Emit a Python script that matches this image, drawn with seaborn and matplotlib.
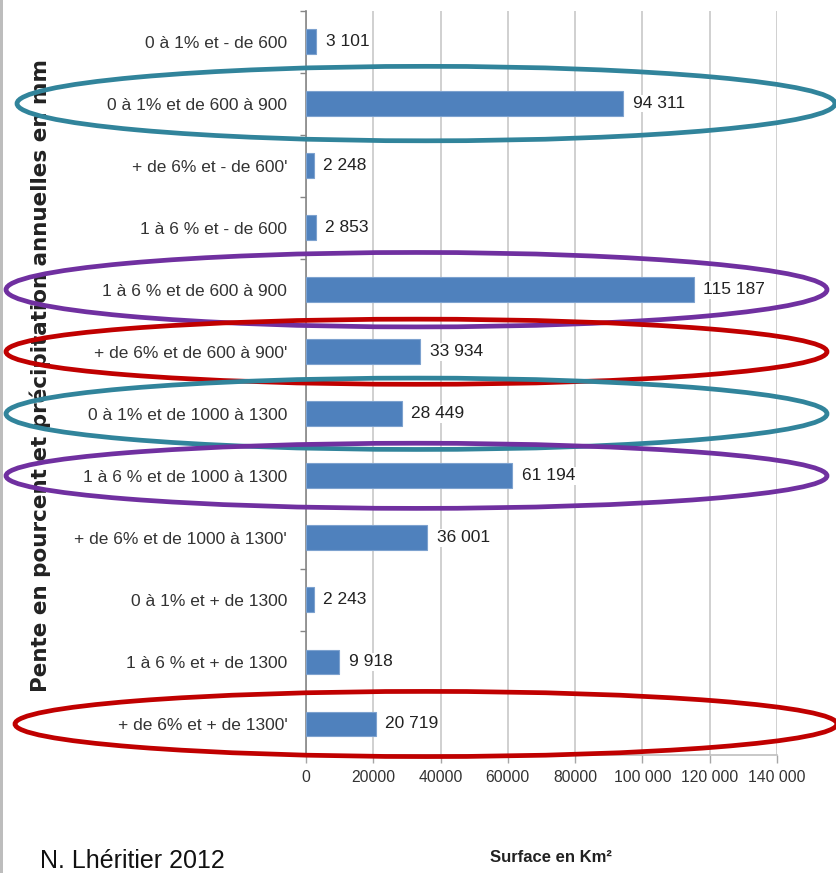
import matplotlib
matplotlib.use("Agg")
import matplotlib.pyplot as plt
import matplotlib.transforms as mtransforms
from matplotlib.patches import Ellipse, Rectangle
from matplotlib.ticker import FixedLocator
import seaborn as sns
import pandas as pd

categories = [
    "0 à 1% et - de 600",
    "0 à 1% et de 600 à 900",
    "+ de 6% et - de 600'",
    "1 à 6 % et - de 600",
    "1 à 6 % et de 600 à 900",
    "+ de 6% et de 600 à 900'",
    "0 à 1% et de 1000 à 1300",
    "1 à 6 % et de 1000 à 1300",
    "+ de 6% et de 1000 à 1300'",
    "0 à 1% et + de 1300",
    "1 à 6 % et + de 1300",
    "+ de 6% et + de 1300'",
]
surfaces = [3101, 94311, 2248, 2853, 115187, 33934, 28449, 61194, 36001, 2243, 9918, 20719]
value_labels = ["3 101", "94 311", "2 248", "2 853", "115 187", "33 934", "28 449",
                "61 194", "36 001", "2 243", "9 918", "20 719"]
x_ticks = [0, 20000, 40000, 60000, 80000, 100000, 120000, 140000]
x_tick_labels = ["0", "20000", "40000", "60000", "80000", "100 000", "120 000", "140 000"]
highlight_rows = [1, 4, 5, 6, 7, 11]
highlight_colors = ["#31849B", "#7030A0", "#C00000", "#31849B", "#7030A0", "#C00000"]

df = pd.DataFrame({"cat": categories, "surface": surfaces})

W, H = 836, 873
fig = plt.figure(figsize=(W / 100, H / 100), dpi=100)
fig.patch.set_facecolor("white")
ax = fig.add_axes([306 / W, 1 - 755 / H, (777 - 306) / W, (755 - 10.5) / H])

sans = ["Liberation Sans", "DejaVu Sans"]

sns.barplot(data=df, y="cat", x="surface", orient="h", color="#4F81BD",
            width=0.4, edgecolor="#7DA2CF", linewidth=0.8, saturation=1, ax=ax, zorder=3)

ax.set_xlim(0, 140000)
ax.set_ylim(len(categories) - 0.5, -0.5)
ax.set_xticks(x_ticks)
ax.set_xticklabels(x_tick_labels, family=sans, fontsize=11.3, color="#333333")
ax.set_yticks(range(len(categories)))
ax.set_yticklabels(categories, family=sans, fontsize=12.5, color="#333333")
ax.yaxis.set_minor_locator(FixedLocator([i - 0.5 for i in range(len(categories) + 1)]))
ax.tick_params(axis="y", which="major", length=0, pad=13.5)
ax.tick_params(axis="y", which="minor", length=4.5, width=1, color="#868686", direction="out")
ax.tick_params(axis="x", which="major", length=6, width=1, color="#A6A6A6", direction="out", pad=5)
ax.set_xlabel("")
ax.set_ylabel("")

ax.grid(axis="x", color="#C8C8C8", linewidth=1.2, zorder=0)
ax.set_axisbelow(True)
for s in ["top", "right"]:
    ax.spines[s].set_visible(False)
ax.spines["left"].set_color("#868686")
ax.spines["left"].set_linewidth(1.2)
ax.spines["bottom"].set_color("#BFBFBF")
ax.spines["bottom"].set_linewidth(1.2)

texts = ax.bar_label(ax.containers[0], labels=value_labels, padding=7,
                     family=sans, fontsize=12.5, color="#222222", zorder=4)
for t in texts:
    t.set_bbox(dict(facecolor="white", edgecolor="none", pad=1))

fig.text(40 / W, 1 - 376 / H, "Pente en pourcent et précipitation annuelles en mm",
         rotation=90, ha="center", va="center", fontsize=15.5, fontweight="bold",
         family="DejaVu Sans", color="#222222")
fig.text(551 / W, 1 - 858 / H, "Surface en Km²", ha="center", va="center",
         fontsize=12, fontweight="bold", family=sans, color="#222222")
fig.text(40 / W, 1 - 872.5 / H, "N. Lhéritier 2012", ha="left", va="bottom",
         fontsize=18, family=sans, color="#111111")

fig.add_artist(Rectangle((0, 0), 3 / W, 1, transform=fig.transFigure,
                         facecolor="#BDBDBD", edgecolor="none"))

blend = mtransforms.blended_transform_factory(fig.transFigure, ax.transData)
ell_geom = {1: (17, 835, 1.2), 4: (6, 827, 1.2), 5: (6, 827, 1.05),
            6: (6, 827, 1.15), 7: (6, 827, 1.05), 11: (15, 837, 1.05)}
for row, col in zip(highlight_rows, highlight_colors):
    x0, x1, h = ell_geom[row]
    e = Ellipse(((x0 + x1) / 2 / W, row), (x1 - x0) / W, h, transform=blend,
                facecolor="none", edgecolor=col, linewidth=3.4, zorder=10)
    fig.add_artist(e)

fig.savefig("out.png", dpi=100, facecolor="white")
